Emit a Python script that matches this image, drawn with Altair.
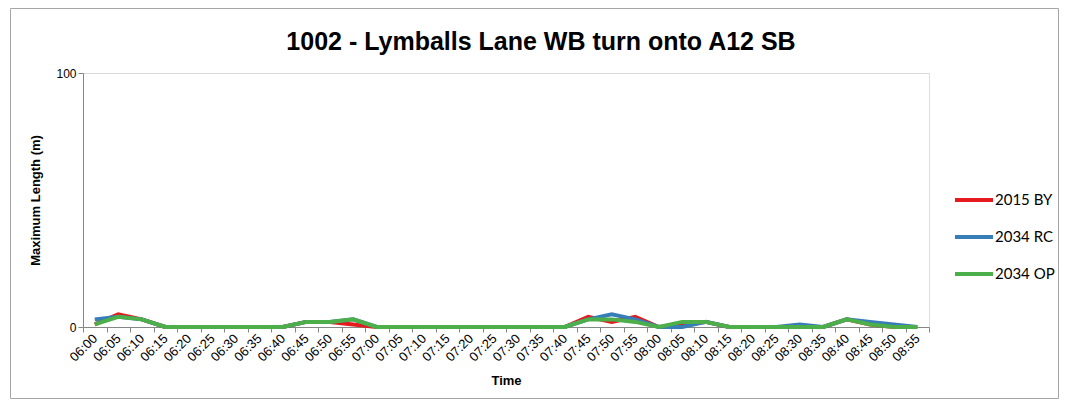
import altair as alt
import pandas as pd

times = ["06:00","06:05","06:10","06:15","06:20","06:25","06:30","06:35","06:40","06:45",
         "06:50","06:55","07:00","07:05","07:10","07:15","07:20","07:25","07:30","07:35",
         "07:40","07:45","07:50","07:55","08:00","08:05","08:10","08:15","08:20","08:25",
         "08:30","08:35","08:40","08:45","08:50","08:55"]
by2015 = [1,5,3,0,0,0,0,0,0,2,2,1,0,0,0,0,0,0,0,0,0,4,2,4,0,1,2,0,0,0,0,0,3,1,0,0]
rc2034 = [3,4,3,0,0,0,0,0,0,2,2,3,0,0,0,0,0,0,0,0,0,3,5,3,0,0,2,0,0,0,1,0,3,2,1,0]
op2034 = [1,4,3,0,0,0,0,0,0,2,2,3,0,0,0,0,0,0,0,0,0,3,3,2,0,2,2,0,0,0,0,0,3,1,0,0]
series = ["2015 BY", "2034 RC", "2034 OP"]
colors = ["#E41A1C", "#377EB8", "#4DAF4A"]
title_text = "1002 - Lymballs Lane WB turn onto A12 SB"

rows = []
for name, vals in zip(series, [by2015, rc2034, op2034]):
    for t, v in zip(times, vals):
        rows.append({"Time": t, "Series": name, "Value": v})
df = pd.DataFrame(rows)

W, H = 846, 254

lines = alt.Chart(df).mark_line(strokeWidth=4).encode(
    x=alt.X("Time:N", sort=times,
            scale=alt.Scale(type="band", paddingInner=0, paddingOuter=0),
            axis=alt.Axis(title="Time", labelAngle=315, labelAlign="right", labelBaseline="middle",
                          labelFont="Liberation Sans", labelFontSize=13, labelColor="#000000",
                          labelPadding=4, tickBand="extent", tickColor="#868686", tickSize=5,
                          domainColor="#868686", grid=False,
                          titleFont="Liberation Sans", titleFontSize=13, titleFontWeight="bold",
                          titleColor="#000000", titlePadding=11)),
    y=alt.Y("Value:Q", scale=alt.Scale(domain=[0, 100]),
            axis=alt.Axis(title="Maximum Length (m)", values=[0, 100], grid=True, gridColor="#D9D9D9",
                          labelFont="Liberation Sans", labelFontSize=12, labelColor="#000000",
                          tickColor="#868686", tickSize=5, domainColor="#868686",
                          titleFont="Liberation Sans", titleFontSize=13, titleFontWeight="bold",
                          titleColor="#000000", titlePadding=13)),
    color=alt.Color("Series:N", sort=series,
                    scale=alt.Scale(domain=series, range=colors),
                    legend=alt.Legend(title=None, orient="none", legendX=870, legendY=106,
                                      symbolType="stroke", symbolSize=1444, symbolStrokeWidth=4,
                                      labelFont="Lato", labelFontSize=15, labelColor="#000000",
                                      rowPadding=8, labelOffset=0)),
)

frame = pd.DataFrame({"label": [title_text]})

border = alt.Chart(frame).mark_rect(
    fill=None, stroke="#A6A6A6", strokeWidth=1, clip=False
).encode(x=alt.value(-72.5), x2=alt.value(W + 129.5), y=alt.value(-64.5), y2=alt.value(H + 71.5))

title = alt.Chart(frame).mark_text(
    font="Liberation Sans", fontSize=25, fontWeight="bold", color="#000000",
    align="center", baseline="alphabetic", clip=False
).encode(text="label:N", x=alt.value(458), y=alt.value(-23))

chart = alt.layer(border, lines, title).properties(
    width=W, height=H,
    padding={"left": 75, "top": 65, "right": 130, "bottom": 73},
    autosize=alt.AutoSizeParams(type="none"),
).configure_view(stroke=None).configure(background="white")

chart.save("out.html", embed_options={"renderer": "svg", "actions": False})
